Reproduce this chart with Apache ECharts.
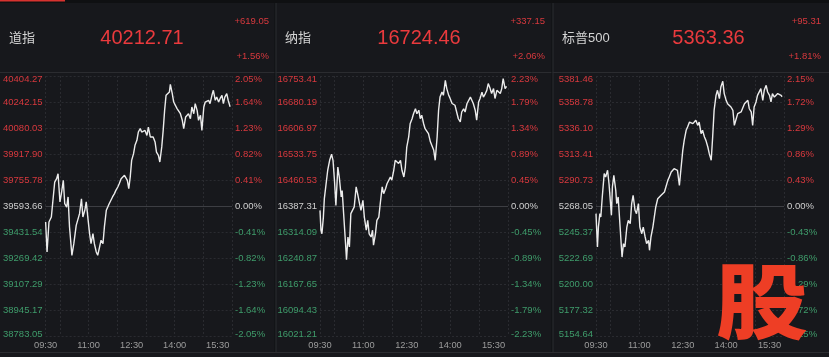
<!DOCTYPE html>
<html><head><meta charset="utf-8">
<script src="https://cdn.jsdelivr.net/npm/echarts@6/dist/echarts.min.js"></script>
<style>html,body{margin:0;padding:0;background:#17181c;}#c{width:829px;height:357px;}</style>
</head><body><div id="c"></div>
<script>
const indexNames = ['道指', '纳指', '标普500'];
const lastPrices = ['40212.71', '16724.46', '5363.36'];
const changeAbs = ['+619.05', '+337.15', '+95.31'];
const changePct = ['+1.56%', '+2.06%', '+1.81%'];
const prevClose = [39593.66, 16387.31, 5268.05];

const dowLeftTicks = ['40404.27','40242.15','40080.03','39917.90','39755.78','39593.66','39431.54','39269.42','39107.29','38945.17','38783.05'];
const dowRightTicks = ['2.05%','1.64%','1.23%','0.82%','0.41%','0.00%','-0.41%','-0.82%','-1.23%','-1.64%','-2.05%'];
const ndqLeftTicks = ['16753.41','16680.19','16606.97','16533.75','16460.53','16387.31','16314.09','16240.87','16167.65','16094.43','16021.21'];
const ndqRightTicks = ['2.23%','1.79%','1.34%','0.89%','0.45%','0.00%','-0.45%','-0.89%','-1.34%','-1.79%','-2.23%'];
const spxLeftTicks = ['5381.46','5358.78','5336.10','5313.41','5290.73','5268.05','5245.37','5222.69','5200.00','5177.32','5154.64'];
const spxRightTicks = ['2.15%','1.72%','1.29%','0.86%','0.43%','0.00%','-0.43%','-0.86%','-1.29%','-1.72%','-2.15%'];

// time axis: minutes after 09:30 open (390-minute session)
const sessionOpen = '09:30';
const sessionClose = '16:00';
const timeLabels = ['09:30','11:00','12:30','14:00','15:30'];
const gridTimes = ['09:30','10:00','11:00','12:00','13:00','14:00','15:00','16:00'];

// Dow Jones: minutes after open / price
const dowMin = [0,3,7,10,12,16,19,23,26,30,33,37,40,44,47,50,55,59,64,68,71,75,78,82,85,89,92,95,99,102,106,109,113,116,120,123,127,130,133,137,140,144,147,151,154,158,161,165,168,171,174,177,180,184,187,191,194,198,201,205,208,212,215,219,222,225,229,232,236,239,243,246,249,252,256,259,261,265,268,272,275,279,282,286,289,293,296,299,303,306,310,313,317,320,324,327,331,334,337,341,344,348,351,355,358,362,365,369,372,375,379,382,386];
const dowPx = [39494,39307,39494,39484,39525,39650,39743,39764,39795,39619,39671,39754,39608,39587,39650,39463,39286,39359,39473,39484,39546,39639,39525,39567,39619,39504,39421,39359,39421,39359,39307,39286,39276,39380,39359,39463,39567,39587,39608,39619,39650,39671,39691,39712,39733,39764,39764,39785,39774,39754,39702,39774,39878,39920,39972,40003,40055,40076,40055,40045,40065,40034,40086,40024,40014,40024,39993,39930,39910,39868,39962,40065,40190,40284,40273,40304,40352,40294,40242,40232,40201,40190,40169,40128,40076,40149,40138,40169,40138,40211,40169,40232,40190,40128,40159,40065,40211,40242,40232,40253,40232,40284,40315,40253,40273,40242,40263,40284,40232,40273,40294,40253,40212.71];

// Nasdaq
const ndqMin = [0,2,4,7,9,13,16,20,24,27,30,33,37,40,44,46,49,53,55,58,61,64,68,71,75,78,82,85,89,92,96,99,102,106,109,111,115,118,122,125,129,132,136,139,142,146,149,153,156,160,163,167,170,174,177,180,184,187,191,194,198,201,205,208,211,215,218,222,225,229,232,236,239,243,246,249,253,256,260,263,267,270,274,277,280,284,287,291,294,298,301,305,308,312,315,318,322,325,329,332,336,339,343,346,349,353,356,360,363,367,370,374,377,380,384,387];
const ndqPx = [16375,16319,16309,16356,16408,16413,16488,16516,16533,16516,16460,16389,16497,16469,16413,16431,16366,16281,16236,16300,16272,16366,16366,16385,16441,16422,16394,16375,16403,16356,16319,16347,16309,16300,16319,16277,16309,16347,16356,16394,16441,16422,16436,16450,16455,16469,16460,16488,16516,16521,16507,16516,16488,16469,16497,16553,16582,16619,16633,16647,16661,16647,16657,16633,16643,16619,16605,16600,16591,16568,16563,16544,16516,16582,16657,16694,16708,16699,16741,16718,16699,16690,16676,16680,16671,16666,16633,16624,16652,16661,16652,16676,16671,16694,16685,16676,16657,16629,16680,16690,16708,16694,16704,16713,16732,16718,16704,16718,16690,16713,16708,16704,16718,16746,16718,16724.46];

// S&P 500
const spxMin = [0,3,5,8,10,13,17,20,24,27,32,34,37,41,43,46,50,54,57,60,64,67,71,74,77,81,84,88,91,95,98,102,105,109,111,114,118,121,124,128,131,135,138,142,145,149,152,156,159,162,166,169,173,176,180,183,187,190,194,197,201,204,207,211,214,218,221,225,228,232,235,239,242,245,249,252,256,259,263,266,270,273,277,280,284,287,290,294,297,301,304,308,311,315,318,322,325,328,332,335,339,342,346,349,353,356,360,363,366,370,373,377,380,384,386];
const spxPx = [5261.4,5232.3,5249.7,5261.4,5258.5,5275.9,5296.3,5293.4,5299.2,5287.5,5259.9,5284.6,5294.8,5281.7,5270.1,5275.9,5249.7,5223.5,5235.2,5232.3,5249.7,5255.5,5252.6,5270.1,5277.4,5264.3,5261.4,5270.1,5249.7,5243.9,5249.7,5241.0,5235.2,5238.1,5229.4,5241.0,5249.7,5258.5,5267.2,5274.4,5275.9,5277.4,5277.4,5280.3,5284.6,5290.4,5293.4,5297.7,5299.2,5300.6,5302.1,5299.2,5286.1,5299.2,5316.6,5325.3,5334.1,5337.0,5341.3,5342.8,5339.9,5339.9,5342.8,5338.4,5341.3,5331.2,5334.1,5328.2,5325.3,5319.5,5313.7,5307.9,5328.2,5351.5,5364.6,5369.0,5361.7,5371.9,5376.8,5366.1,5360.2,5357.3,5355.9,5354.4,5351.5,5338.4,5342.8,5348.6,5347.1,5350.1,5351.5,5357.3,5358.8,5360.2,5352.9,5350.1,5338.4,5354.4,5358.8,5364.6,5366.1,5370.4,5360.2,5369.0,5373.3,5367.5,5364.6,5358.8,5366.1,5363.1,5364.6,5366.1,5367.5,5364.6,5363.36];

const leftTicks = [dowLeftTicks, ndqLeftTicks, spxLeftTicks];
const rightTicks = [dowRightTicks, ndqRightTicks, spxRightTicks];
const seriesMin = [dowMin, ndqMin, spxMin];
const seriesPx = [dowPx, ndqPx, spxPx];

const toMin = s => { const [h, m] = s.split(':').map(Number); const [h0, m0] = sessionOpen.split(':').map(Number); return (h - h0) * 60 + (m - m0); };
const sessionLen = toMin(sessionClose);
const labelMins = timeLabels.map(toMin);
const gridMins = gridTimes.map(toMin);

// layout
const FONT = "'Liberation Sans','Noto Sans CJK SC',sans-serif";
const gridLeft = [44, 320, 596];
const nameX = [9, 285, 562];
const priceX = [142, 419, 708.5];
const chgX = [269, 545, 821];
const RED = '#d8393e', GREEN = '#3f9c6b', ZERO = '#cfcfcf';
const labelColor = v => { v = Number(v); return v > 0.01 ? RED : (v < -0.01 ? GREEN : ZERO); };
const GRIDC = '#2a2b30';
const xStep = 30;
const xSplitColors = [];
for (let m = 0; m <= sessionLen; m += xStep) xSplitColors.push(gridMins.includes(m) ? GRIDC : 'rgba(0,0,0,0)');
const zc = []; for (let k = 0; k < 11; k++) zc.push(k === 5 ? '#3d3e43' : 'rgba(0,0,0,0)');
const rich = {
  t: { padding: [7, 0, 0, 0], fontSize: 9.5, fontFamily: FONT, color: RED },
  b: { padding: [0, 0, 4, 0], fontSize: 9.5, fontFamily: FONT, color: GREEN }
};
const fmt = arr => v => { const k = Math.round(5 - v); const s = arr[k]; return k === 0 ? '{t|' + s + '}' : (k === 10 ? '{b|' + s + '}' : s); };

const grids = [], xAxes = [], yAxes = [], series = [], graphics = [];
for (let p = 0; p < 3; p++) {
  grids.push({ left: gridLeft[p], top: 76, width: 188, height: 260, containLabel: false });
  xAxes.push({
    type: 'value', gridIndex: p, min: 0, max: sessionLen, interval: xStep,
    axisLine: { show: false }, axisTick: { show: false },
    axisLabel: { formatter: v => { const i = labelMins.indexOf(Math.round(v)); return i >= 0 ? timeLabels[i] : ''; }, color: '#9c9c9c', fontSize: 9.3, fontFamily: FONT, margin: 5, showMinLabel: true, showMaxLabel: true },
    splitLine: { show: true, lineStyle: { color: xSplitColors, type: [2, 2], width: 1 } }
  });
  const step = (parseFloat(leftTicks[p][0]) - prevClose[p]) / 5;
  yAxes.push({
    type: 'value', gridIndex: p, position: 'left', min: -5, max: 5, interval: 1,
    axisLine: { show: false }, axisTick: { show: false },
    axisLabel: { formatter: fmt(leftTicks[p]), rich: rich, color: labelColor, fontSize: 9.5, fontFamily: FONT, margin: 3 },
    splitLine: { show: true, lineStyle: { color: GRIDC, type: [2, 2], width: 1 } }
  });
  yAxes.push({
    type: 'value', gridIndex: p, position: 'right', min: -5, max: 5, interval: 1,
    axisLine: { show: false }, axisTick: { show: false },
    axisLabel: { formatter: fmt(rightTicks[p]), rich: rich, color: labelColor, fontSize: 9.5, fontFamily: FONT, margin: 3 },
    splitLine: { show: true, lineStyle: { color: zc, type: 'solid', width: 1 } }
  });
  const mins = seriesMin[p], px = seriesPx[p];
  series.push({
    type: 'line', xAxisIndex: p, yAxisIndex: p * 2, symbol: 'none', showSymbol: false,
    lineStyle: { color: '#ececec', width: 1.4 }, animation: false, z: 5,
    data: px.map((v, i) => [mins[i], (v - prevClose[p]) / step])
  });
  graphics.push({ type: 'text', x: nameX[p], y: 38, style: { text: indexNames[p], fill: '#d4d4d4', font: '13px ' + FONT, textAlign: 'left', textVerticalAlign: 'middle' } });
  graphics.push({ type: 'text', x: priceX[p], y: 38.5, style: { text: lastPrices[p], fill: '#ea3a3d', font: '20px ' + FONT, textAlign: 'center', textVerticalAlign: 'middle' } });
  graphics.push({ type: 'text', x: chgX[p], y: 21, style: { text: changeAbs[p], fill: RED, font: '9.5px ' + FONT, textAlign: 'right', textVerticalAlign: 'middle' } });
  graphics.push({ type: 'text', x: chgX[p], y: 56, style: { text: changePct[p], fill: RED, font: '9.5px ' + FONT, textAlign: 'right', textVerticalAlign: 'middle' } });
}
// frame pieces
graphics.push({ type: 'rect', shape: { x: 0, y: 0, width: 829, height: 3 }, style: { fill: '#0f1012' } });
graphics.push({ type: 'rect', shape: { x: 0, y: 0, width: 65, height: 1.5 }, style: { fill: '#d8322f' } });
graphics.push({ type: 'rect', shape: { x: 0, y: 72, width: 829, height: 1 }, style: { fill: '#2b2c30' } });
graphics.push({ type: 'rect', shape: { x: 274.5, y: 3, width: 1, height: 350 }, style: { fill: '#0f1012' } });
graphics.push({ type: 'rect', shape: { x: 275.5, y: 3, width: 1, height: 350 }, style: { fill: '#2b2c30' } });
graphics.push({ type: 'rect', shape: { x: 551.5, y: 3, width: 1, height: 350 }, style: { fill: '#0f1012' } });
graphics.push({ type: 'rect', shape: { x: 552.5, y: 3, width: 1, height: 350 }, style: { fill: '#2b2c30' } });
graphics.push({ type: 'rect', shape: { x: 0, y: 352, width: 829, height: 1 }, style: { fill: '#2b2c30' } });
graphics.push({ type: 'text', x: 762, y: 301, scaleX: 1.12, z: 100, style: { text: '股', fill: '#ee3e25', font: "900 82px 'Noto Sans CJK SC'", textAlign: 'center', textVerticalAlign: 'middle' } });

const chart = echarts.init(document.getElementById('c'), null, { renderer: 'canvas' });
chart.setOption({
  backgroundColor: '#17181c', animation: false,
  grid: grids, xAxis: xAxes, yAxis: yAxes, series: series, graphic: graphics
});
</script></body></html>
